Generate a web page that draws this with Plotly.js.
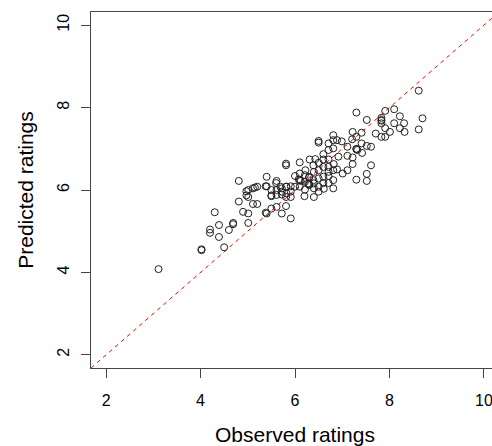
<!DOCTYPE html>
<html>
<head>
<meta charset="utf-8">
<script src="https://cdn.plot.ly/plotly-3.0.1.min.js"></script>
<style>
html,body{margin:0;padding:0;overflow:hidden;background:#fff;}
#chart{width:510px;height:446px;}
</style>
</head>
<body>
<div id="chart"></div>
<script>
// Observed ratings (x) and predicted ratings (y)
const observed = [
  8.62,7.30,7.91,8.10,7.52,8.70,8.22,7.83,7.83,7.83,7.83,8.10,8.31,8.22,8.32,8.62,7.91,8.01,7.71,7.83,
  7.91,7.41,7.22,7.30,7.21,7.41,7.52,7.61,7.30,7.30,7.32,7.11,7.42,7.11,7.22,7.22,7.61,7.52,7.52,7.30,
  7.11,7.01,
  6.89,6.81,6.81,6.89,6.99,6.71,6.50,6.50,6.81,6.71,6.60,6.92,6.60,6.71,6.43,6.31,6.10,5.81,5.81,6.50,
  6.39,6.82,6.71,6.60,6.50,6.40,6.22,6.71,6.81,6.71,6.60,6.81,6.50,6.39,6.21,6.10,6.00,6.10,6.12,6.08,
  6.30,6.30,6.30,6.30,6.28,6.21,6.40,6.60,6.71,6.50,6.40,6.61,6.81,6.10,6.00,6.21,6.20,6.40,6.50,
  5.91,5.81,5.69,5.60,5.61,5.50,5.50,5.50,5.61,5.72,5.81,5.91,5.91,5.40,5.40,5.15,5.20,5.11,5.01,5.01,
  5.11,5.20,4.90,5.01,5.50,5.40,5.61,5.81,5.72,5.91,4.81,4.81,4.97,4.97,4.30,4.20,4.20,4.39,4.39,4.60,
  4.69,4.69,5.01,4.02,4.02,4.50,3.11,5.61,5.72,5.82,5.38,5.38,5.82,5.72
];
const predicted = [
  8.41,7.88,7.92,7.96,7.70,7.74,7.79,7.62,7.68,7.75,7.70,7.62,7.62,7.50,7.41,7.47,7.50,7.41,7.37,7.29,
  7.29,7.39,7.41,7.29,7.23,7.13,7.07,7.05,6.99,7.00,6.97,7.05,6.90,6.83,6.79,6.63,6.60,6.39,6.22,6.25,
  6.48,6.40,
  6.50,7.33,7.21,7.21,7.18,7.13,7.15,7.19,7.01,6.97,6.87,6.81,6.74,6.74,6.75,6.74,6.67,6.60,6.64,6.66,
  6.60,6.63,6.56,6.56,6.48,6.44,6.48,6.44,6.48,6.34,6.32,6.24,6.28,6.24,6.36,6.40,6.34,6.24,6.22,6.26,
  6.32,6.30,6.14,6.12,6.16,6.20,6.16,6.17,6.17,6.08,6.04,6.03,6.04,6.08,6.08,6.01,5.85,5.83,5.96,
  6.09,6.08,6.08,6.17,6.00,6.00,5.85,5.87,5.88,5.96,5.83,5.83,5.96,6.32,6.09,6.06,6.08,6.04,6.00,5.83,
  5.66,5.66,5.47,5.43,5.55,5.43,5.59,5.61,5.43,5.31,6.22,5.72,5.97,5.87,5.46,5.04,4.96,5.15,4.86,5.03,
  5.17,5.20,5.20,4.54,4.56,4.61,4.08,6.22,6.04,6.08,6.09,5.45,5.92,5.89
];
// Axis ranges and tick labels
const axisRange = [1.68, 10.32];
const tickValues = [2, 4, 6, 8, 10];
const tickLabels = ["2", "4", "6", "8", "10"];

const font = "Liberation Sans, Arial, sans-serif";

const traces = [
  {
    x: axisRange, y: axisRange, type: "scatter", mode: "lines",
    line: {color: "#ff0000", width: 1, dash: "4px,4px"},
    hoverinfo: "skip", showlegend: false
  },
  {
    x: observed, y: predicted, type: "scatter", mode: "markers",
    marker: {symbol: "circle-open", size: 7, color: "#222", line: {width: 1, color: "#222"}},
    showlegend: false
  }
];

const axisCommon = {
  range: axisRange, tickvals: tickValues, ticktext: tickLabels,
  showgrid: false, zeroline: false, showline: true, mirror: true,
  linecolor: "#444", linewidth: 1,
  ticks: "outside", ticklen: 9, tickcolor: "#444", tickwidth: 1,
  tickfont: {family: font, size: 16, color: "#000"}
};

const layout = {
  width: 510, height: 446,
  margin: {l: 91, r: 11, t: 12, b: 78},
  paper_bgcolor: "#fff", plot_bgcolor: "#fff",
  xaxis: Object.assign({}, axisCommon, {
    ticklabelstandoff: 9,
    title: {text: "Observed ratings", font: {family: font, size: 21, color: "#000"}, standoff: 26}
  }),
  yaxis: Object.assign({}, axisCommon, {
    tickangle: -90,
    ticklabelstandoff: 6,
    title: {text: "Predicted ratings", font: {family: font, size: 21, color: "#000"}, standoff: 15}
  })
};

Plotly.newPlot("chart", traces, layout, {displayModeBar: false, staticPlot: true});
</script>
</body>
</html>
